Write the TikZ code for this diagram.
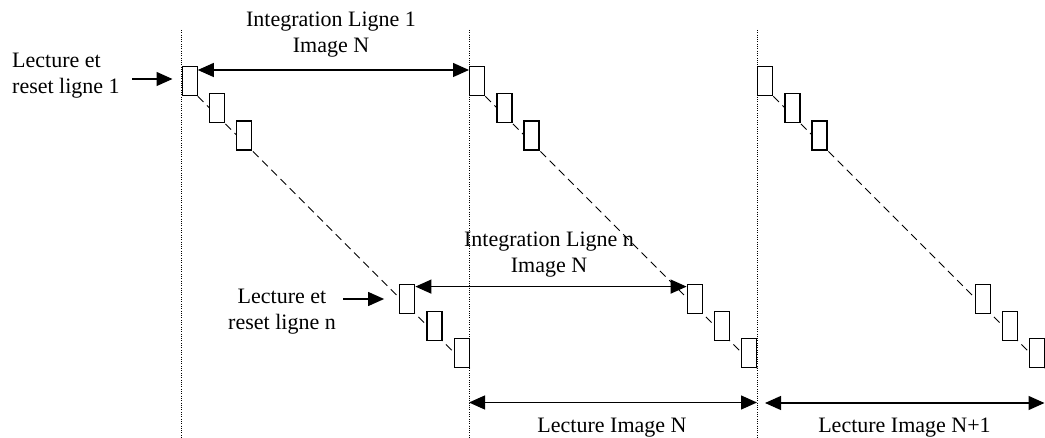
\documentclass[tikz,border=0pt]{standalone}
\usepackage{fontspec}
\setmainfont{Liberation Serif}
\usetikzlibrary{arrows.meta,calc,backgrounds}

\begin{document}
\begin{tikzpicture}[x=1pt,y=-1pt,
  lbl/.style={font=\fontsize{22}{26}\selectfont, inner sep=0pt},
  rowbox/.style={draw, fill=white, line width=1.3pt, minimum width=15pt,
    minimum height=29pt, inner sep=0pt, anchor=north west},
  guide/.style={line width=0.8pt, dash pattern=on 1pt off 1.3pt},
  diag/.style={line width=1pt, dash pattern=on 8pt off 5pt},
  dimline/.style={line width=1.3pt,
    {Triangle[length=16pt,width=14pt]}-{Triangle[length=16pt,width=14pt]}},
  pointer/.style={line width=1.3pt, -{Triangle[length=16pt,width=14pt]}}
]
\useasboundingbox (0,0) rectangle (1045,438);

% frame start guides
\foreach \g/\x in {1/181.5,2/469,3/757}{
  \coordinate (top\g) at (\x,30);
  \coordinate (bot\g) at (\x,438);
}

% rows read out one after another: three first rows, three last rows
\foreach \g/\x in {1/181.5,2/469,3/757}{
  \foreach \k in {0,1,2,8,9,10}{
    \node[rowbox] (r\g-\k) at ({\x+27.2*\k},{66+27.2*\k}) {};
  }
}

\begin{scope}[on background layer]
  \foreach \g in {1,2,3}{
    \draw[guide] (top\g) -- (bot\g);
    \draw[diag] (r\g-0.south east) -- (r\g-10.south east);
  }
\end{scope}

% integration of line 1
\draw[dimline] ([yshift=-4pt]r1-0.north east) -- ([yshift=-4pt]r2-0.north west);
\node[lbl, align=center, anchor=base] (int1) at (331,53) {Integration Ligne 1\\Image N};

% integration of line n
\draw[dimline] ([yshift=-3pt]r1-8.north east) -- ([yshift=-3pt]r2-8.north west);
\node[lbl, align=center, anchor=base] (intn) at (549,273) {Integration Ligne n\\Image N};

% read and reset pointers
\node[lbl, align=left, anchor=base west] (lr1) at (12,94) {Lecture et\\reset ligne 1};
\coordinate (p1) at (132,79);
\draw[pointer] (p1) -- ([xshift=-9pt]r1-0.west |- p1);

\node[lbl, align=center, anchor=base] (lrn) at (282,330) {Lecture et\\reset ligne n};
\coordinate (pn) at (343,299);
\draw[pointer] (pn) -- ([xshift=-15pt]r1-8.west |- pn);

% frame read-out spans
\coordinate (ln1) at (469,402.5);
\coordinate (ln2) at (757,402.5);
\draw[dimline] (ln1) -- (ln2);
\node[lbl, anchor=base] (lecN) at (612,432) {Lecture Image N};

\coordinate (lm1) at (765,403);
\coordinate (lm2) at (1044.5,403);
\draw[dimline] (lm1) -- (lm2);
\node[lbl, anchor=base] (lecN1) at (904.5,432) {Lecture Image N+1};
\end{tikzpicture}
\end{document}
